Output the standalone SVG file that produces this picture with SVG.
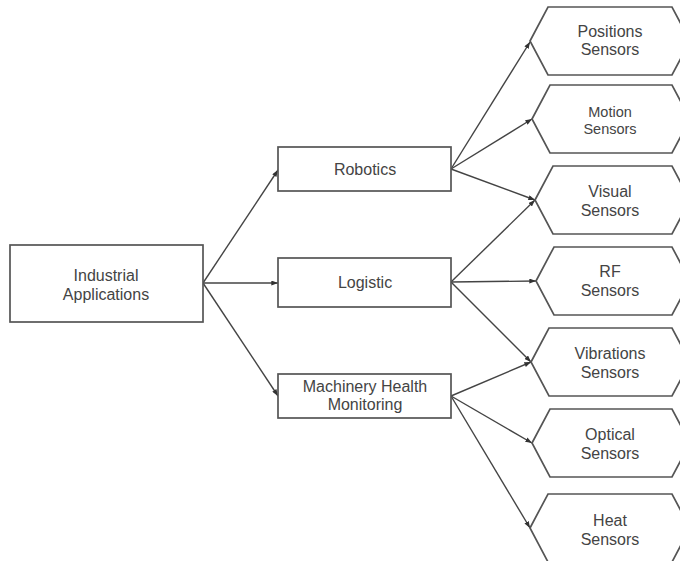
<svg xmlns="http://www.w3.org/2000/svg" width="680" height="561" viewBox="0 0 680 561">
  <defs>
    <marker id="arrow" viewBox="0 0 8 6" refX="8" refY="3" markerWidth="7" markerHeight="5" orient="auto" markerUnits="userSpaceOnUse">
      <path d="M0,0 L8,3 L0,6 z" fill="#333"/>
    </marker>
    <style>
      .box { fill: #fff; stroke: #555; stroke-width: 1.7; }
      .hex { fill: #fff; stroke: #555; stroke-width: 1.7; }
      .lbl { font-family: "Liberation Sans", Arial, sans-serif; font-size: 16px; fill: #444; text-anchor: middle; }
      .sm { font-size: 14.5px; }
      .edge { stroke: #444; stroke-width: 1.4; fill: none; marker-end: url(#arrow); }
    </style>
  </defs>
  <rect width="680" height="561" fill="#fff"/>

  <g id="connectors">
    <line class="edge" x1="203" y1="283" x2="278" y2="170"/>
    <line class="edge" x1="203" y1="283" x2="278" y2="283"/>
    <line class="edge" x1="203" y1="283" x2="278" y2="396"/>
    <line class="edge" x1="451" y1="169" x2="530" y2="42"/>
    <line class="edge" x1="451" y1="169" x2="532" y2="119"/>
    <line class="edge" x1="451" y1="169" x2="535" y2="200"/>
    <line class="edge" x1="451" y1="282" x2="535" y2="200"/>
    <line class="edge" x1="451" y1="282" x2="536" y2="281"/>
    <line class="edge" x1="451" y1="282" x2="531" y2="362"/>
    <line class="edge" x1="451" y1="396" x2="531" y2="362"/>
    <line class="edge" x1="451" y1="396" x2="532" y2="443"/>
    <line class="edge" x1="451" y1="396" x2="530" y2="528"/>
  </g>

  <g id="industrial">
    <rect class="box" x="10" y="245" width="193" height="77"/>
    <text class="lbl" x="106" y="281">Industrial</text>
    <text class="lbl" x="106" y="300">Applications</text>
  </g>

  <g id="robotics">
    <rect class="box" x="278" y="147" width="173" height="44"/>
    <text class="lbl" x="365" y="175">Robotics</text>
  </g>

  <g id="logistic">
    <rect class="box" x="278" y="258" width="173" height="49"/>
    <text class="lbl" x="365" y="288">Logistic</text>
  </g>

  <g id="machinery">
    <rect class="box" x="278" y="374" width="173" height="44"/>
    <text class="lbl" x="365" y="392">Machinery Health</text>
    <text class="lbl" x="365" y="410">Monitoring</text>
  </g>

  <g id="positions">
    <polygon class="hex" points="530,41 548,7 672,7 690,41 672,75 548,75"/>
    <text class="lbl" x="610" y="37">Positions</text>
    <text class="lbl" x="610" y="55">Sensors</text>
  </g>

  <g id="motion">
    <polygon class="hex" points="532,119 550,85 672,85 690,119 672,153 550,153"/>
    <text class="lbl sm" x="610" y="117">Motion</text>
    <text class="lbl sm" x="610" y="134">Sensors</text>
  </g>

  <g id="visual">
    <polygon class="hex" points="535,200 553,166 672,166 690,200 672,234 553,234"/>
    <text class="lbl" x="610" y="197">Visual</text>
    <text class="lbl" x="610" y="216">Sensors</text>
  </g>

  <g id="rf">
    <polygon class="hex" points="536,281 554,247 672,247 690,281 672,315 554,315"/>
    <text class="lbl" x="610" y="277">RF</text>
    <text class="lbl" x="610" y="296">Sensors</text>
  </g>

  <g id="vibrations">
    <polygon class="hex" points="531,362 549,328 672,328 690,362 672,396 549,396"/>
    <text class="lbl" x="610" y="359">Vibrations</text>
    <text class="lbl" x="610" y="378">Sensors</text>
  </g>

  <g id="optical">
    <polygon class="hex" points="532,443 550,409 672,409 690,443 672,477 550,477"/>
    <text class="lbl" x="610" y="440">Optical</text>
    <text class="lbl" x="610" y="459">Sensors</text>
  </g>

  <g id="heat">
    <polygon class="hex" points="530,528 548,494 672,494 690,528 672,562 548,562"/>
    <text class="lbl" x="610" y="526">Heat</text>
    <text class="lbl" x="610" y="545">Sensors</text>
  </g>
</svg>
